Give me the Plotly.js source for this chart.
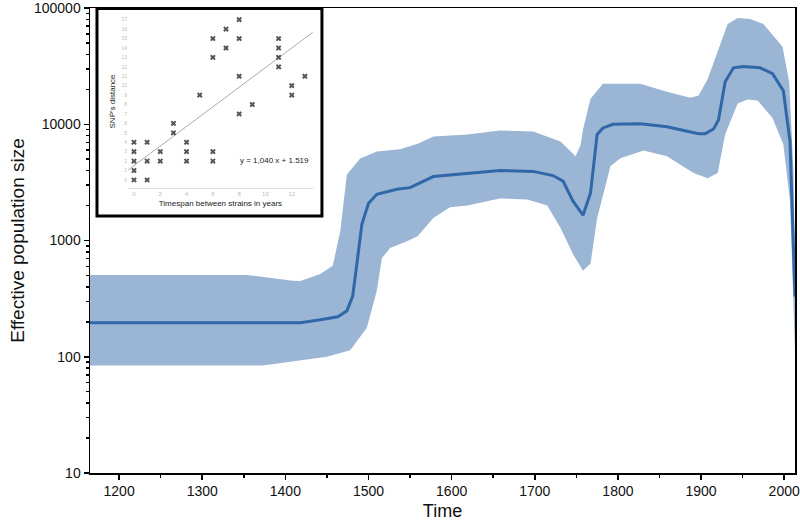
<!DOCTYPE html>
<html>
<head>
<meta charset="utf-8">
<script src="https://cdn.plot.ly/plotly-3.0.1.min.js"></script>
<style>
  html, body { margin: 0; padding: 0; background: #fff; }
  #plot { width: 800px; height: 521px; }
</style>
</head>
<body>
<div id="plot"></div>
<script>
// Bayesian skyline: median and 95% HPD band
const medianYears = [1165, 1418, 1442, 1463, 1474, 1481, 1486, 1492, 1500, 1510, 1534, 1550, 1578, 1619, 1658, 1698, 1722, 1734, 1746, 1758, 1767, 1775, 1782, 1794, 1827, 1859, 1883, 1897, 1905, 1915, 1921, 1929, 1939, 1951, 1971, 1986, 1999, 2007, 2013];
const medianNe = [196, 196, 208, 221, 248, 333, 630, 1380, 2090, 2500, 2760, 2850, 3550, 3800, 4000, 3930, 3620, 3240, 2180, 1650, 2550, 8170, 9300, 10000, 10100, 9500, 8800, 8300, 8300, 9100, 10900, 23200, 30600, 31400, 30600, 27200, 19400, 7100, 330];

const upperYears = [1165, 1354, 1409, 1418, 1442, 1457, 1466, 1474, 1490, 1510, 1538, 1560, 1578, 1619, 1658, 1698, 1731, 1749, 1755, 1758, 1767, 1782, 1827, 1859, 1887, 1897, 1908, 1932, 1944, 1959, 1975, 1998, 2006, 2011, 2013];
const upperNe = [505, 505, 450, 449, 516, 605, 1200, 3700, 5080, 5840, 6100, 6840, 7850, 8150, 8830, 8650, 7100, 5300, 6600, 9000, 16600, 22300, 22300, 19000, 16900, 17700, 24500, 73000, 82000, 80500, 73000, 46400, 23200, 4200, 800];

const lowerYears = [1165, 1373, 1418, 1433, 1450, 1478, 1498, 1510, 1516, 1526, 1538, 1547, 1559, 1578, 1598, 1619, 1658, 1691, 1715, 1731, 1746, 1758, 1767, 1775, 1791, 1803, 1831, 1859, 1891, 1908, 1920, 1929, 1944, 1956, 1968, 1986, 1999, 2007, 2013];
const lowerNe = [84, 84, 93, 96, 100, 114, 178, 370, 705, 860, 935, 990, 1090, 1560, 1930, 2000, 2300, 2250, 2000, 1280, 760, 550, 630, 1550, 4350, 5100, 5950, 5300, 3800, 3430, 3800, 8150, 15100, 16300, 16000, 11300, 6700, 2200, 110];

// inset: SNP distance vs timespan
const spanYears = [0, 0, 0, 0, 0, 1, 1, 1, 2, 2, 3, 3, 4, 4, 4, 5, 6, 6, 6, 6, 7, 7, 8, 8, 8, 8, 9, 11, 11, 11, 11, 12, 12, 13];
const snpDist = [0, 1, 2, 3, 4, 0, 2, 4, 2, 3, 5, 6, 2, 3, 4, 9, 2, 3, 13, 15, 14, 16, 7, 11, 15, 17, 8, 12, 13, 14, 15, 9, 10, 11];
const fitSlope = 1.040;
const fitIntercept = 1.519;
const fitX = [-0.6, 13.6];
const fitY = fitX.map(x => fitSlope * x + fitIntercept);

const band = {
  x: upperYears.concat(lowerYears.slice().reverse()),
  y: upperNe.concat(lowerNe.slice().reverse()),
  type: 'scatter',
  mode: 'lines',
  fill: 'toself',
  fillcolor: 'rgb(155,182,212)',
  line: { width: 0, color: 'rgb(155,182,212)' },
  hoverinfo: 'skip',
  showlegend: false
};

const median = {
  x: medianYears,
  y: medianNe,
  type: 'scatter',
  mode: 'lines',
  line: { color: 'rgb(47,103,168)', width: 3 },
  showlegend: false
};

const insetPoints = {
  x: spanYears,
  y: snpDist,
  xaxis: 'x2',
  yaxis: 'y2',
  type: 'scatter',
  mode: 'markers',
  marker: { symbol: 'x', size: 5, color: '#555', line: { width: 0 } },
  showlegend: false
};

const insetFit = {
  x: fitX,
  y: fitY,
  xaxis: 'x2',
  yaxis: 'y2',
  type: 'scatter',
  mode: 'lines',
  line: { color: '#aaa', width: 1 },
  showlegend: false
};

const font = 'Liberation Sans, Arial, sans-serif';

const layout = {
  width: 800,
  height: 521,
  margin: { l: 90, r: 5, t: 8, b: 48 },
  paper_bgcolor: '#fff',
  plot_bgcolor: '#fff',
  font: { family: font, color: '#111' },
  xaxis: {
    range: [1165, 2013],
    tick0: 1200,
    dtick: 100,
    ticks: 'outside',
    ticklen: 5,
    tickwidth: 1.5,
    tickcolor: '#000',
    minor: { dtick: 50, ticks: 'outside', ticklen: 3, tickcolor: '#000' },
    showgrid: false,
    zeroline: false,
    showline: true,
    linecolor: '#000',
    linewidth: 1.5,
    mirror: true,
    ticklabeloverflow: 'allow',
    tickfont: { size: 14, color: '#111' },
    title: { text: 'Time', font: { size: 18, color: '#111' }, standoff: 6 }
  },
  yaxis: {
    type: 'log',
    range: [1, 5],
    dtick: 1,
    tickformat: 'd',
    ticks: 'outside',
    ticklen: 5,
    tickwidth: 1.5,
    tickcolor: '#000',
    minor: { dtick: 'D1', ticks: 'outside', ticklen: 3, tickcolor: '#000' },
    showgrid: false,
    zeroline: false,
    showline: true,
    linecolor: '#000',
    linewidth: 1.5,
    mirror: true,
    ticklabeloverflow: 'allow',
    tickfont: { size: 14, color: '#111' },
    title: { text: 'Effective population size', font: { size: 19, color: '#111' }, standoff: 4 }
  },
  xaxis2: {
    domain: [0.054, 0.316],
    anchor: 'y2',
    range: [-0.45, 13.6],
    tick0: 0,
    dtick: 2,
    showgrid: false,
    zeroline: false,
    showline: true,
    linecolor: '#ddd',
    linewidth: 1,
    ticks: '',
    tickfont: { size: 6, color: '#bbb' },
    title: { text: 'Timespan between strains in years', font: { size: 8, color: '#222' }, standoff: 4 }
  },
  yaxis2: {
    domain: [0.613, 0.985],
    anchor: 'x2',
    range: [-0.85, 17.5],
    tick0: 0,
    dtick: 1,
    showgrid: false,
    zeroline: false,
    showline: false,
    ticks: '',
    tickfont: { size: 5, color: '#bbb' },
    title: { text: "SNP's distance", font: { size: 8, color: '#222' }, standoff: 4 }
  },
  shapes: [{
    type: 'rect',
    xref: 'paper', yref: 'paper',
    x0: 0.0099, x1: 0.329, y0: 0.5527, y1: 0.999,
    line: { color: '#000', width: 3 },
    fillcolor: '#fff',
    layer: 'below'
  }],
  annotations: [{
    xref: 'x2', yref: 'y2',
    x: 10.7, y: 2.1,
    text: 'y = 1,040 x + 1.519',
    showarrow: false,
    font: { size: 8, color: '#222' }
  }]
};

Plotly.newPlot('plot', [band, median, insetFit, insetPoints], layout, { displayModeBar: false, staticPlot: true });
</script>
</body>
</html>
